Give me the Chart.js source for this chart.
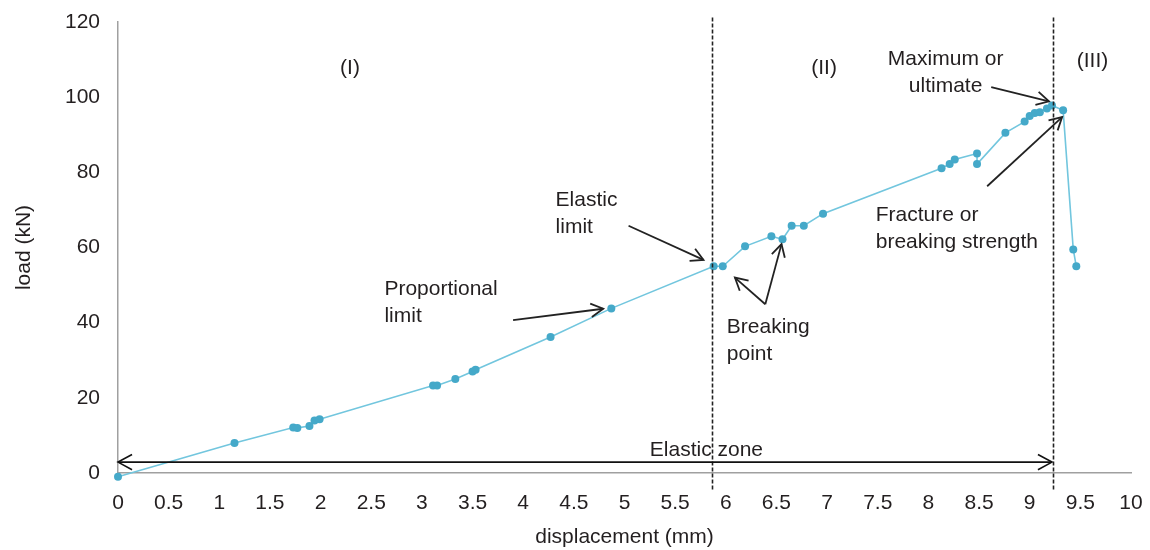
<!DOCTYPE html>
<html>
<head>
<meta charset="utf-8">
<title>Load vs displacement</title>
<script src="https://cdn.jsdelivr.net/npm/chart.js@4"></script>
<style>
  html, body { margin: 0; padding: 0; background: #fff; }
  #wrap { width: 1150px; height: 550px; position: relative; }
</style>
</head>
<body>
<div id="wrap"><canvas id="loadChart"></canvas></div>
<script>
// ── Data ────────────────────────────────────────────────────────────────────
const displacement = [0, 1.15, 1.73, 1.77, 1.89, 1.94, 1.99, 3.11, 3.15, 3.33, 3.5, 3.53,
  4.27, 4.87, 5.88, 5.97, 6.19, 6.45, 6.56, 6.65, 6.77, 6.96, 8.13, 8.21, 8.26, 8.48, 8.48,
  8.76, 8.95, 9.0, 9.05, 9.1, 9.17, 9.22, 9.33, 9.43, 9.46];
const load = [-1, 8, 12.1, 12, 12.5, 14, 14.3, 23.3, 23.3, 25, 27, 27.5,
  36.2, 43.8, 55, 55, 60.3, 63, 62.2, 65.8, 65.8, 69, 81.1, 82.2, 83.4, 85, 82.2,
  90.5, 93.5, 95, 95.8, 96, 97, 97.8, 96.5, 59.5, 55];

const xTicks = [0, 0.5, 1, 1.5, 2, 2.5, 3, 3.5, 4, 4.5, 5, 5.5, 6, 6.5, 7, 7.5, 8, 8.5, 9, 9.5, 10];
const yTicks = [0, 20, 40, 60, 80, 100, 120];

// zone boundaries (mm)
const zoneLines = [5.86, 9.23];
const zoneTopBottom = [121.2, -4.5];

// annotation text: [x, y, lines, align]
const labels = [
  [2.29, 107.6, ['(I)'], 'center'],
  [6.97, 107.6, ['(II)'], 'center'],
  [9.62, 109.5, ['(III)'], 'center'],
  [8.17, 110.0, ['Maximum or', 'ultimate'], 'center'],
  [4.32, 72.6, ['Elastic', 'limit'], 'left'],
  [2.63, 48.9, ['Proportional', 'limit'], 'left'],
  [6.01, 38.8, ['Breaking', 'point'], 'left'],
  [7.48, 68.6, ['Fracture or', 'breaking strength'], 'left'],
  [5.25, 6.0, ['Elastic zone'], 'left'],
];

// arrows: [fromX, fromY, toX, toY]
const arrows = [
  [3.90, 40.7, 4.79, 43.7],
  [5.04, 65.8, 5.78, 56.7],
  [6.39, 44.9, 6.09, 52.0],
  [6.39, 44.9, 6.55, 60.9],
  [8.62, 102.7, 9.19, 98.9],
  [8.58, 76.3, 9.32, 94.7],
];
const elasticZone = [0, 9.22, 2.9];

// ── Helpers ─────────────────────────────────────────────────────────────────
const FONT = '"Liberation Sans", Arial, sans-serif';
const TEXT = '#231f20';

function arrowHead(ctx, x1, y1, x2, y2, len) {
  const a = Math.atan2(y2 - y1, x2 - x1);
  ctx.beginPath();
  ctx.moveTo(x2 - len * Math.cos(a - 0.5), y2 - len * Math.sin(a - 0.5));
  ctx.lineTo(x2, y2);
  ctx.lineTo(x2 - len * Math.cos(a + 0.5), y2 - len * Math.sin(a + 0.5));
  ctx.stroke();
}

const annotationPlugin = {
  id: 'annotations',
  afterDatasetsDraw(chart) {
    const { ctx, scales: { x, y } } = chart;
    ctx.save();

    // dashed zone lines
    ctx.strokeStyle = '#222';
    ctx.lineWidth = 1.6;
    ctx.setLineDash([4, 2]);
    zoneLines.forEach(v => {
      const px = Math.round(x.getPixelForValue(v)) + 0.5;
      ctx.beginPath();
      ctx.moveTo(px, y.getPixelForValue(zoneTopBottom[0]));
      ctx.lineTo(px, y.getPixelForValue(zoneTopBottom[1]));
      ctx.stroke();
    });
    ctx.setLineDash([]);

    // elastic zone double arrow
    const [z0, z1, zy] = elasticZone;
    const ex0 = x.getPixelForValue(z0), ex1 = x.getPixelForValue(z1), ey = y.getPixelForValue(zy);
    ctx.strokeStyle = '#111';
    ctx.lineWidth = 1.6;
    ctx.beginPath();
    ctx.moveTo(ex0, ey);
    ctx.lineTo(ex1, ey);
    ctx.stroke();
    arrowHead(ctx, ex1, ey, ex0, ey, 16);
    arrowHead(ctx, ex0, ey, ex1, ey, 16);

    // pointer arrows
    ctx.strokeStyle = '#222';
    ctx.lineWidth = 1.8;
    arrows.forEach(([fx, fy, tx, ty]) => {
      const x1 = x.getPixelForValue(fx), y1 = y.getPixelForValue(fy);
      const x2 = x.getPixelForValue(tx), y2 = y.getPixelForValue(ty);
      ctx.beginPath();
      ctx.moveTo(x1, y1);
      ctx.lineTo(x2, y2);
      ctx.stroke();
      arrowHead(ctx, x1, y1, x2, y2, 14);
    });

    // text
    ctx.fillStyle = TEXT;
    ctx.font = '21px ' + FONT;
    ctx.textBaseline = 'middle';
    labels.forEach(([lx, ly, lines, align]) => {
      ctx.textAlign = align;
      const px = x.getPixelForValue(lx), py = y.getPixelForValue(ly);
      lines.forEach((t, i) => ctx.fillText(t, px, py + i * 27));
    });

    ctx.restore();
  }
};

// ── Chart ───────────────────────────────────────────────────────────────────
new Chart(document.getElementById('loadChart').getContext('2d'), {
  type: 'scatter',
  data: {
    datasets: [{
      data: displacement.map((d, i) => ({ x: d, y: load[i] })),
      showLine: true,
      borderColor: '#72c6de',
      borderWidth: 1.6,
      pointBackgroundColor: '#45a9c9',
      pointBorderColor: '#45a9c9',
      pointRadius: 4,
      pointBorderWidth: 0,
      tension: 0,
      clip: false,
    }]
  },
  options: {
    responsive: true, maintainAspectRatio: false, animation: false,
    layout: { padding: { top: 22, right: 19, left: 0, bottom: 0 } },
    plugins: { legend: { display: false }, tooltip: { enabled: false } },
    scales: {
      x: {
        type: 'linear', min: 0, max: 10,
        afterBuildTicks: s => { s.ticks = xTicks.map(v => ({ value: v })); },
        afterFit: s => { s.height = 77; s.paddingLeft = 0; s.paddingRight = 0; },
        grid: { display: false, drawTicks: false },
        border: { display: true, color: '#a0a0a0', width: 1.5 },
        ticks: { color: TEXT, font: { family: FONT, size: 21 }, padding: 18, maxRotation: 0, autoSkip: false,
                 callback: v => String(v) },
        title: { display: true, text: 'displacement (mm)', color: TEXT, font: { family: FONT, size: 21 }, padding: { top: 0, bottom: 0 } },
      },
      y: {
        type: 'linear', min: 0, max: 120,
        afterBuildTicks: s => { s.ticks = yTicks.map(v => ({ value: v })); },
        afterFit: s => { s.width = 118; s.paddingTop = 0; s.paddingBottom = 0; },
        grid: { display: false, drawTicks: false },
        border: { display: true, color: '#a0a0a0', width: 1.5 },
        ticks: { color: TEXT, font: { family: FONT, size: 21 }, padding: 18, callback: v => String(v) },
        title: { display: true, text: 'load (kN)', color: TEXT, font: { family: FONT, size: 21 }, padding: { top: 12, bottom: 0 } },
      }
    }
  },
  plugins: [annotationPlugin]
});
</script>
</body>
</html>
